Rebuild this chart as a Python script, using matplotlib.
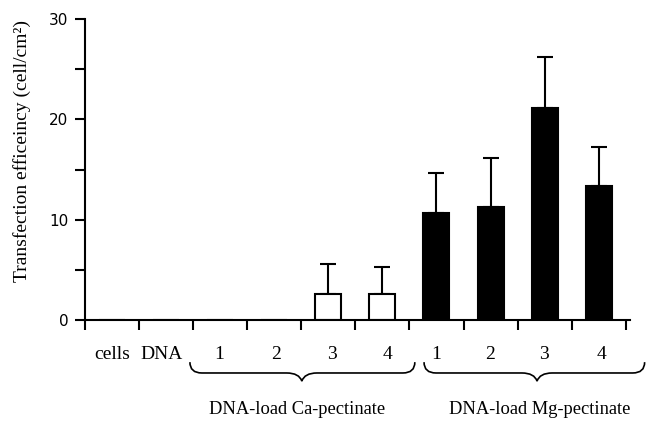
import matplotlib
matplotlib.use("Agg")
import matplotlib.pyplot as plt
import matplotlib.transforms as mtransforms
from matplotlib.path import Path
from matplotlib.patches import PathPatch
import numpy as np

# data
categories = ["cells", "DNA", "1", "2", "3", "4", "1", "2", "3", "4"]
values = [0, 0, 0, 0, 2.6, 2.6, 10.7, 11.3, 21.1, 13.4]
errors = [0, 0, 0, 0, 3.0, 2.7, 4.0, 4.8, 5.1, 3.8]
fills = ["white"] * 6 + ["black"] * 4
groups = ["DNA-load Ca-pectinate", "DNA-load Mg-pectinate"]
group_spans = [(1.94, 4.01, 6.10), (6.27, 8.36, 10.35)]
group_label_x = [3.92, 8.41]
yticks = [0, 10, 20, 30]

plt.rcParams["font.family"] = ["Liberation Serif", "DejaVu Serif"]

fig = plt.figure(figsize=(6.46, 4.30), dpi=100)
ax = fig.add_axes([0.1316, 0.2558, 0.8437, 0.70])

x = np.arange(len(categories)) + 0.5
ax.bar(x, values, width=0.48, color=fills, edgecolor="black", linewidth=1.5, zorder=2)
ax.errorbar(x[4:], values[4:], yerr=[np.zeros(6), errors[4:]], fmt="none",
            ecolor="black", elinewidth=1.5, capsize=6, capthick=1.5, zorder=1)

ax.set_xlim(0, 10.08)
ax.set_ylim(0, 30)
ax.set_xticks(np.arange(0, 11))
ax.set_xticklabels([])
ax.set_yticks(yticks)
ax.set_yticks([5, 15, 25], minor=True)
ax.tick_params(axis="both", which="both", direction="out", length=7, width=1.5)
ax.tick_params(axis="y", pad=5)
ax.set_yticklabels([str(v) for v in yticks], family="DejaVu Sans", fontsize=11)
for side in ("top", "right"):
    ax.spines[side].set_visible(False)
for side in ("left", "bottom"):
    ax.spines[side].set_linewidth(1.5)

ax.set_ylabel("Transfection efficeincy (cell/cm²)", fontsize=14)
ax.yaxis.set_label_coords(-0.099, 0.561)

trans = mtransforms.blended_transform_factory(ax.transData, ax.transAxes)
label_x = [0.5, 1.41, 2.48, 3.53, 4.57, 5.6, 6.5, 7.5, 8.48, 9.55]
for lx, lab in zip(label_x, categories):
    ax.text(lx, -0.116, lab, transform=trans, ha="center", va="center", fontsize=14)

# curly braces under each group
y_top, y_mid, y_tip = -0.14, -0.176, -0.203
d, c = 0.22, 0.28
for (x0, xc, x1), name, gx in zip(group_spans, groups, group_label_x):
    verts = [
        (x0, y_top), (x0, y_mid), (x0 + d, y_mid),
        (xc - c, y_mid),
        (xc - 0.05, y_mid), (xc, y_tip),
        (xc + 0.05, y_mid), (xc + c, y_mid),
        (x1 - d, y_mid),
        (x1, y_mid), (x1, y_top),
    ]
    codes = [Path.MOVETO, Path.CURVE3, Path.CURVE3, Path.LINETO,
             Path.CURVE3, Path.CURVE3, Path.CURVE3, Path.CURVE3,
             Path.LINETO, Path.CURVE3, Path.CURVE3]
    patch = PathPatch(Path(verts, codes), transform=trans, facecolor="none",
                      edgecolor="black", linewidth=1.2, clip_on=False)
    ax.add_patch(patch)
    ax.text(gx, -0.296, name, transform=trans, ha="center", va="center", fontsize=13.3)

fig.savefig("out.png", dpi=100)
